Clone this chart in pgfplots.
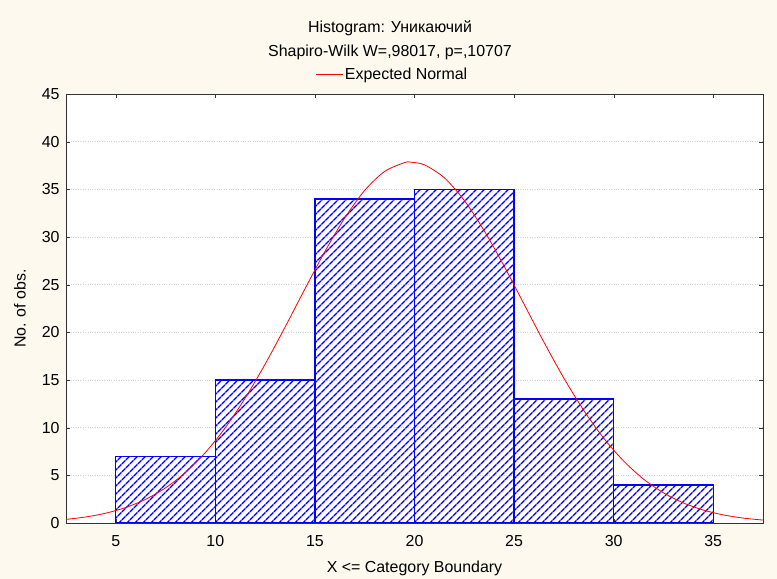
\documentclass[border=0pt]{standalone}
\usepackage{fontspec}
\setmainfont{Liberation Sans}
\usepackage{pgfplots}
\pgfplotsset{compat=1.18}
\usetikzlibrary{patterns.meta}
\definecolor{cream}{RGB}{253,249,239}

\begin{document}
\begin{tikzpicture}[x=1bp,y=1bp,font=\fontsize{16}{19}\selectfont]
\useasboundingbox (0,0) rectangle (777,579);
\fill[cream] (0,0) rectangle (777,579);
\node at (390,551) {Histogram: Уникаючий};
\node at (390,527) {Shapiro-Wilk W=,98017, p=,10707};
\begin{axis}[
    at={(66bp,56bp)}, anchor=south west,
    scale only axis, width=697bp, height=429bp,
    axis background/.style={fill=white},
    xmin=2.5, xmax=37.5, ymin=0, ymax=45,
    xtick={5,10,...,35}, ytick={0,5,...,45},
    tick pos=both, tick align=inside,
    major tick length=4bp,
    axis line style={black!80, line width=0.9bp},
    tick style={black!80},
    ymajorgrids, grid style={dotted, gray!35},
    /pgf/number format/assume math mode=true,
    ticklabel style={font=\fontsize{16}{19}\selectfont},
    xticklabel style={yshift=-9bp},
    yticklabel style={xshift=-3bp},
    xlabel={X <= Category Boundary},
    ylabel={No. of obs.},
    xlabel style={at={(axis description cs:0.5,-0.105)}, anchor=center},
    ylabel style={at={(axis description cs:-0.066,0.5)}, anchor=center},
    legend style={at={(axis description cs:0.468,1.0466)}, anchor=center,
        draw=none, fill=none, font=\fontsize{16}{19}\selectfont},
    legend image code/.code={\draw[#1] (0bp,0bp) -- (27bp,0bp);},
]
\addplot[ybar interval, draw=blue, line width=1.4bp,
    pattern={Lines[angle=45, distance=6bp, line width=1.5bp]}, pattern color=blue,
    forget plot]
  coordinates {(5,7) (10,15) (15,34) (20,35) (25,13) (30,4) (35,4)};
\addplot[red, line width=0.8bp, smooth, no marks] coordinates {
 (2.5,0.379) (3.5,0.634) (4.5,1.031) (5.5,1.627) (6.5,2.488) (7.5,3.690)
 (8.5,5.305) (9.5,7.396) (10.5,10.000) (11.5,13.112) (12.5,16.669)
 (13.5,20.548) (14.5,24.566) (15.5,28.477) (16.5,32.009) (17.5,34.891)
 (18.5,36.878) (19.5,37.798) (19.8,37.850) (20.5,37.566) (21.5,36.204)
 (22.5,33.833) (23.5,30.660) (24.5,26.942) (25.5,22.957) (26.5,18.969)
 (27.5,15.198) (28.5,11.809) (29.5,8.896) (30.5,6.500) (31.5,4.605)
 (32.5,3.163) (33.5,2.107) (34.5,1.361) (35.5,0.852) (36.5,0.518)
 (37.5,0.305)};
\addlegendentry{Expected Normal}
\end{axis}
\end{tikzpicture}
\end{document}
